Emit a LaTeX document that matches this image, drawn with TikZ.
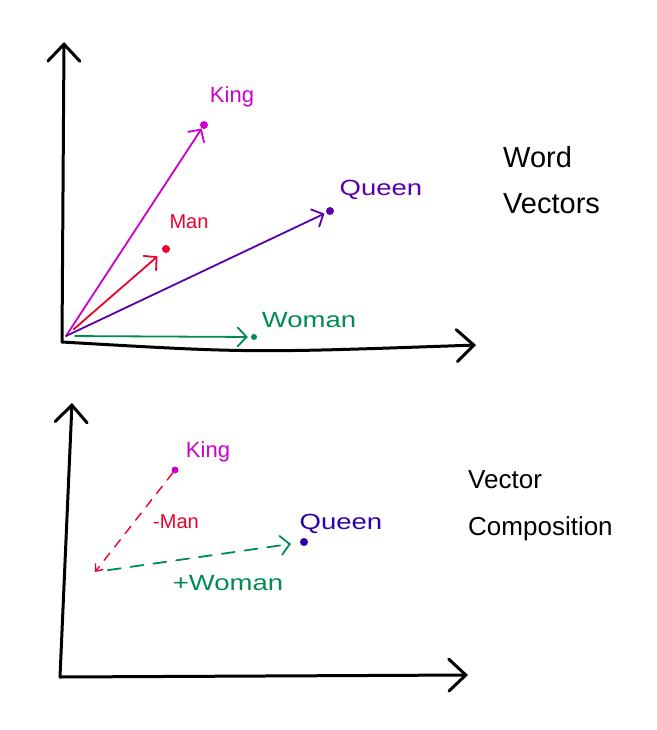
\documentclass[tikz,border=0pt]{standalone}
\usepackage{fontspec}
\setmainfont{Liberation Sans}
\usetikzlibrary{arrows.meta,positioning}
\definecolor{wvking}{RGB}{204,0,204}
\definecolor{wvman}{RGB}{236,0,44}
\definecolor{wvqueen}{RGB}{90,0,170}
\definecolor{wvqueenb}{RGB}{45,0,170}
\definecolor{wvwoman}{RGB}{0,140,80}
\begin{document}
\begin{tikzpicture}[x=1pt, y=-1pt,
  ax/.style={line width=3pt, line cap=round, -{Straight Barb[length=17pt, width=32pt, line cap=round]}},
  vec/.style={line width=1.8pt, line cap=round, -{Straight Barb[length=9pt, width=19pt, line cap=round]}},
  dvec/.style={vec, dash pattern=on 13pt off 10pt},
  dot/.style={circle, fill, inner sep=0pt, minimum size=8pt},
  lbl/.style={font=\fontsize{22}{24}\selectfont, inner sep=0pt},
  wide/.style={lbl, xscale=1.25},
  ttl/.style={font=\fontsize{29}{46}\selectfont, align=left, inner sep=0pt, anchor=west}]
\useasboundingbox (0,0) rectangle (656,730);
\coordinate (o1) at (62,342);
\coordinate (y1) at (64,42);
\coordinate (x1) at (476,345);
\coordinate (v0) at (66,336);
\draw[ax] (o1) -- (y1);
\draw[ax] (o1) .. controls (250,353) .. (x1);
\node[dot, wvking] (king) at (204,125) {};
\node[dot, wvman] (man) at (166,249) {};
\node[dot, wvqueen] (queen) at (330,211) {};
\node[dot, wvwoman, minimum size=6pt] (woman) at (254,337) {};
\node[lbl, wvking] (kinglbl) at (232,97) {King};
\node[lbl, wvman, font=\fontsize{20}{22}\selectfont] (manlbl) at (189,222) {Man};
\node[wide, wvqueen] (queenlbl) at (381,190) {Queen};
\node[wide, wvwoman] (womanlbl) at (309,320) {Woman};
\draw[vec, wvking] (v0) -- (king);
\draw[vec, wvman, shorten <=10pt, shorten >=7pt] (v0) -- (man);
\draw[vec, wvqueen, shorten >=2pt] (v0) -- (queen);
\draw[vec, wvwoman, shorten <=9pt, shorten >=3pt] (v0) -- (woman);
\node[ttl] (wvtitle) at (503,180) {Word\\Vectors};
\coordinate (o2) at (60,677);
\coordinate (y2) at (72,403);
\coordinate (x2) at (468,675);
\coordinate (corner) at (95,572);
\draw[ax] (o2) -- (y2);
\draw[ax] (o2) -- (x2);
\node[dot, wvking, minimum size=7pt] (king2) at (175,470) {};
\node[dot, wvqueenb] (queen2) at (304,542) {};
\node[lbl, wvking] (king2lbl) at (208,452) {King};
\node[wide, wvqueenb] (queen2lbl) at (341,524) {Queen};
\node[lbl, wvman, font=\fontsize{20}{22}\selectfont] (minuslbl) at (176,522) {-Man};
\node[wide, wvwoman] (pluslbl) at (228,583) {+Woman};
\draw[dvec, wvman, line width=1.4pt, dash pattern=on 9pt off 8pt, -{Straight Barb[length=6pt, width=10pt]}] (king2) -- (corner);
\draw[dvec, wvwoman, shorten <=13pt, shorten >=9pt] (corner) -- (queen2);
\node[ttl, font=\fontsize{26}{47}\selectfont] (vctitle) at (468,506) {Vector\\Composition};
\end{tikzpicture}
\end{document}
